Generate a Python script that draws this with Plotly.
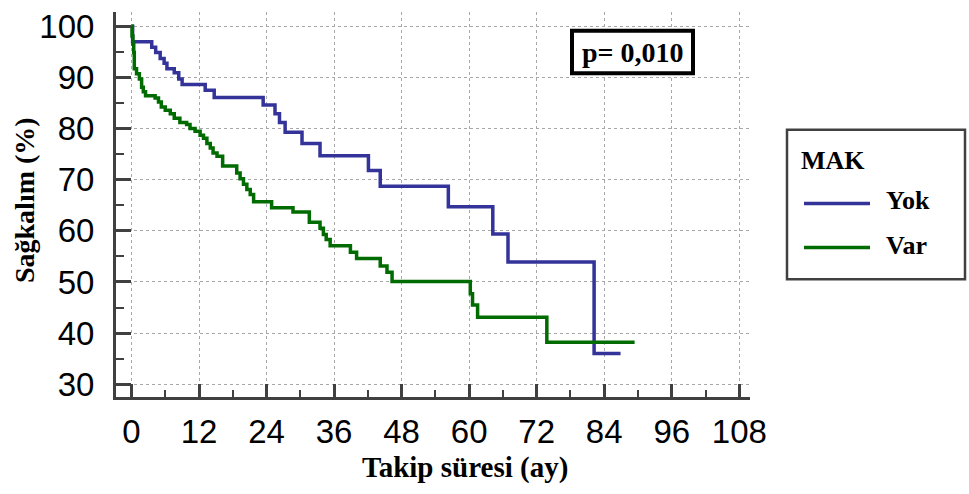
import plotly.graph_objects as go

# Kaplan-Meier step data (time in months, survival %)
yok_t = [0, 0.2, 3.6, 4.3, 5.1, 5.8, 6.3, 7.6, 8.4, 9.0, 13.1, 14.7, 23.4, 25.5, 26.3, 27.3,
         30.3, 33.5, 42.1, 44.2, 56.3, 64.2, 66.9, 82.2, 86.9]
yok_s = [100, 97.0, 95.9, 94.9, 93.7, 92.8, 91.7, 90.9, 89.7, 88.6, 87.5, 86.1, 84.6, 82.9, 81.2, 79.3,
         77.1, 74.7, 71.8, 68.7, 64.7, 59.4, 53.9, 36.0, 36.0]

var_t = [0, 0.1, 0.25, 0.4, 0.5, 0.9, 1.4, 1.8, 2.1, 2.5, 4.2, 4.8, 5.3, 6.0, 6.9, 7.6, 8.6, 9.8,
         10.4, 11.3, 12.2, 12.8, 13.4, 14.0, 14.5, 15.2, 16.2, 18.7, 19.3, 19.9, 20.5, 21.1, 21.7,
         24.9, 28.7, 31.6, 33.5, 34.1, 34.6, 35.3, 38.9, 40.0, 44.2, 45.4, 46.3, 60.2, 60.6, 61.5,
         73.8, 89.4]
var_s = [100, 98.1, 96.5, 94.9, 91.7, 90.7, 89.7, 88.1, 87.2, 86.4, 86.0, 85.2, 84.2, 83.6, 82.9, 82.0, 81.2, 80.8,
         80.0, 79.5, 78.7, 78.1, 77.1, 76.2, 75.2, 74.6, 72.7, 71.3, 70.2, 69.1, 68.1, 67.1, 65.7,
         64.5, 63.7, 61.7, 60.5, 59.3, 58.3, 57.1, 55.8, 54.6, 53.1, 51.9, 50.1, 47.7, 45.5, 43.1,
         38.2, 38.2]

series_names = ["Yok", "Var"]
series_colors = ["#33339a", "#006b00"]
legend_title = "MAK"
p_text = "p= 0,010"
x_title = "Takip süresi (ay)"
y_title = "Sağkalım (%)"

AX = "#404040"
SERIF = "Liberation Serif"
SANS = "Liberation Sans"

fig = go.Figure()
for t, s, name, col in [(yok_t, yok_s, series_names[0], series_colors[0]),
                        (var_t, var_s, series_names[1], series_colors[1])]:
    fig.add_trace(go.Scatter(x=t, y=s, mode="lines", name=name,
                             line=dict(color=col, width=3.5, shape="hv"),
                             showlegend=False))

axis_common = dict(
    showline=True, linewidth=3, linecolor=AX, mirror=False,
    ticks="inside", tickwidth=3, tickcolor=AX,
    showgrid=True, gridcolor="#a8a8a8", gridwidth=1, griddash="3px,3px",
    zeroline=False, tickfont=dict(family=SANS, size=33, color="black"),
    tickmode="linear", tick0=0,
)

fig.update_xaxes(range=[-2.75, 109.9], dtick=12, ticklen=13, ticklabelstandoff=3,
                 minor=dict(dtick=6, tick0=0, ticks="inside", ticklen=7, tickwidth=2,
                            tickcolor=AX, showgrid=False),
                 **axis_common)
fig.update_yaxes(range=[27.5, 102.8], dtick=10, ticklen=15, ticklabelstandoff=12,
                 minor=dict(dtick=5, tick0=0, ticks="inside", ticklen=8, tickwidth=2,
                            tickcolor=AX, showgrid=False),
                 **axis_common)

L, R, T, B = 116, 219, 8, 97
W, H = 969, 494
pw, ph = W - L - R, H - T - B

def px(x):
    return (x - L) / pw

def py(y):
    return (H - B - y) / ph

shapes = [
    # p-value box
    dict(type="rect", xref="paper", yref="paper", x0=px(572), x1=px(693), y0=py(70), y1=py(27),
         line=dict(color="black", width=4), fillcolor="white", layer="above"),
    # legend box
    dict(type="rect", xref="paper", yref="paper", x0=px(787), x1=px(965), y0=py(278), y1=py(127),
         line=dict(color=AX, width=2.5), fillcolor="white"),
    dict(type="line", xref="paper", yref="paper", x0=px(804), x1=px(870), y0=py(201.5), y1=py(201.5),
         line=dict(color=series_colors[0], width=3.5)),
    dict(type="line", xref="paper", yref="paper", x0=px(804), x1=px(870), y0=py(246), y1=py(246),
         line=dict(color=series_colors[1], width=3.5)),
]

annotations = [
    dict(text=f"<b>{p_text}</b>", xref="paper", yref="paper", x=px(632.5), y=py(48.5),
         showarrow=False, font=dict(family=SERIF, size=28, color="black"),
         xanchor="center", yanchor="middle"),
    dict(text=f"<b>{legend_title}</b>", xref="paper", yref="paper", x=px(799), y=py(158),
         showarrow=False, font=dict(family=SERIF, size=26, color="black"),
         xanchor="left", yanchor="middle"),
    dict(text=f"<b>{series_names[0]}</b>", xref="paper", yref="paper", x=px(884), y=py(198),
         showarrow=False, font=dict(family=SERIF, size=26, color="black"),
         xanchor="left", yanchor="middle"),
    dict(text=f"<b>{series_names[1]}</b>", xref="paper", yref="paper", x=px(884), y=py(244),
         showarrow=False, font=dict(family=SERIF, size=26, color="black"),
         xanchor="left", yanchor="middle"),
    dict(text=f"<b>{x_title}</b>", xref="paper", yref="paper", x=px(465), y=py(468),
         showarrow=False, font=dict(family=SERIF, size=29, color="black"),
         xanchor="center", yanchor="middle"),
    dict(text=f"<b>{y_title}</b>", xref="paper", yref="paper", x=px(24), y=py(198),
         showarrow=False, font=dict(family=SERIF, size=28, color="black"),
         xanchor="center", yanchor="middle", textangle=-90),
]

fig.update_layout(
    width=W, height=H,
    margin=dict(l=L, r=R, t=T, b=B),
    paper_bgcolor="white", plot_bgcolor="white",
    shapes=shapes, annotations=annotations,
    showlegend=False,
)

fig.write_html("out.html")
